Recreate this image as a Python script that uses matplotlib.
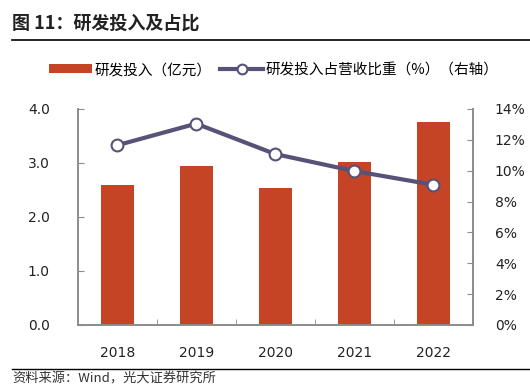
import matplotlib
matplotlib.use("Agg")
import matplotlib.pyplot as plt
from matplotlib.lines import Line2D
from matplotlib.patches import Patch
from matplotlib.ticker import FuncFormatter, MultipleLocator
import numpy as np

plt.rcParams['font.family'] = ['Noto Sans CJK SC', 'DejaVu Sans']

years = ['2018', '2019', '2020', '2021', '2022']
rd_spend = [2.59, 2.94, 2.53, 3.02, 3.76]          # 亿元
rd_ratio = [11.65, 13.05, 11.08, 9.98, 9.09]       # %

bar_color = '#C54425'
line_color = '#575277'
spine_color = '#8C8C8C'

W, H = 530, 391
fig = plt.figure(figsize=(W / 100, H / 100), dpi=100)
ax = fig.add_axes([77.7 / W, 1 - 325 / H, (472.7 - 77.7) / W, (325 - 109) / H])
ax2 = ax.twinx()

x = np.arange(len(years))
ax.bar(x, rd_spend, width=0.42, color=bar_color, zorder=2)
ax.set_xlim(-0.5, len(years) - 0.5)
ax.set_ylim(0, 4.0)
ax.yaxis.set_major_locator(MultipleLocator(1.0))
ax.yaxis.set_major_formatter(FuncFormatter(lambda v, p: f'{v:.1f}'))
ax.set_xticks(x)
ax.set_xticklabels(years)
ax.set_xticks(np.arange(-0.5, len(years)), minor=True)

ax2.plot(x, rd_ratio, color=line_color, lw=3, marker='o', ms=8.5,
         mfc='white', mec=line_color, mew=1.5, zorder=3)
ax2.set_ylim(0, 14)
ax2.yaxis.set_major_locator(MultipleLocator(2))
ax2.yaxis.set_major_formatter(FuncFormatter(lambda v, p: f'{v:.0f}%'))

for a in (ax, ax2):
    a.spines['top'].set_visible(False)
    for s in ('left', 'right', 'bottom'):
        a.spines[s].set_color(spine_color)
        a.spines[s].set_linewidth(1.2)
    a.set_facecolor('none')

ax.tick_params(axis='y', direction='in', length=4, color=spine_color, pad=20,
               labelsize=10, labelfontfamily='DejaVu Sans')
ax2.tick_params(axis='y', direction='in', length=4, color=spine_color, pad=16,
                labelsize=10, labelfontfamily='DejaVu Sans')
ax.tick_params(axis='x', which='major', length=0, pad=15, labelsize=10,
               labelfontfamily='DejaVu Sans')
ax.tick_params(axis='x', which='minor', direction='in', length=4, color=spine_color)
for lbl in ax.get_yticklabels() + ax2.get_yticklabels() + ax.get_xticklabels():
    lbl.set_color('#222222')

# title & rules
fig.text(12 / W, 1 - 23 / H, '图 11：研发投入及占比', fontsize=13, fontweight='bold',
         color='#222222', ha='left', va='center')
fig.add_artist(Line2D([12 / W, 1.0], [1 - 40 / H, 1 - 40 / H], color='black', lw=1.2))
fig.add_artist(Line2D([12 / W, 1.0], [1 - 369 / H, 1 - 369 / H], color='black', lw=1.0))
fig.text(12 / W, 1 - 379 / H, '资料来源：Wind，光大证券研究所', fontsize=9.5,
         color='#333333', ha='left', va='center')

handles = [Patch(facecolor=bar_color, edgecolor='none'),
           Line2D([], [], color=line_color, lw=3, marker='o', ms=7,
                  mfc='white', mec=line_color, mew=1.5)]
labels = ['研发投入（亿元）', '研发投入占营收比重（%）（右轴）']
fig.legend(handles, labels, loc='center', bbox_to_anchor=(274 / W, 1 - 70 / H),
           ncol=2, frameon=False, fontsize=10.5, handlelength=2.9, handleheight=0.55,
           handletextpad=0.2, columnspacing=0.6, borderaxespad=0, borderpad=0)

fig.savefig('out.png', dpi=100)
